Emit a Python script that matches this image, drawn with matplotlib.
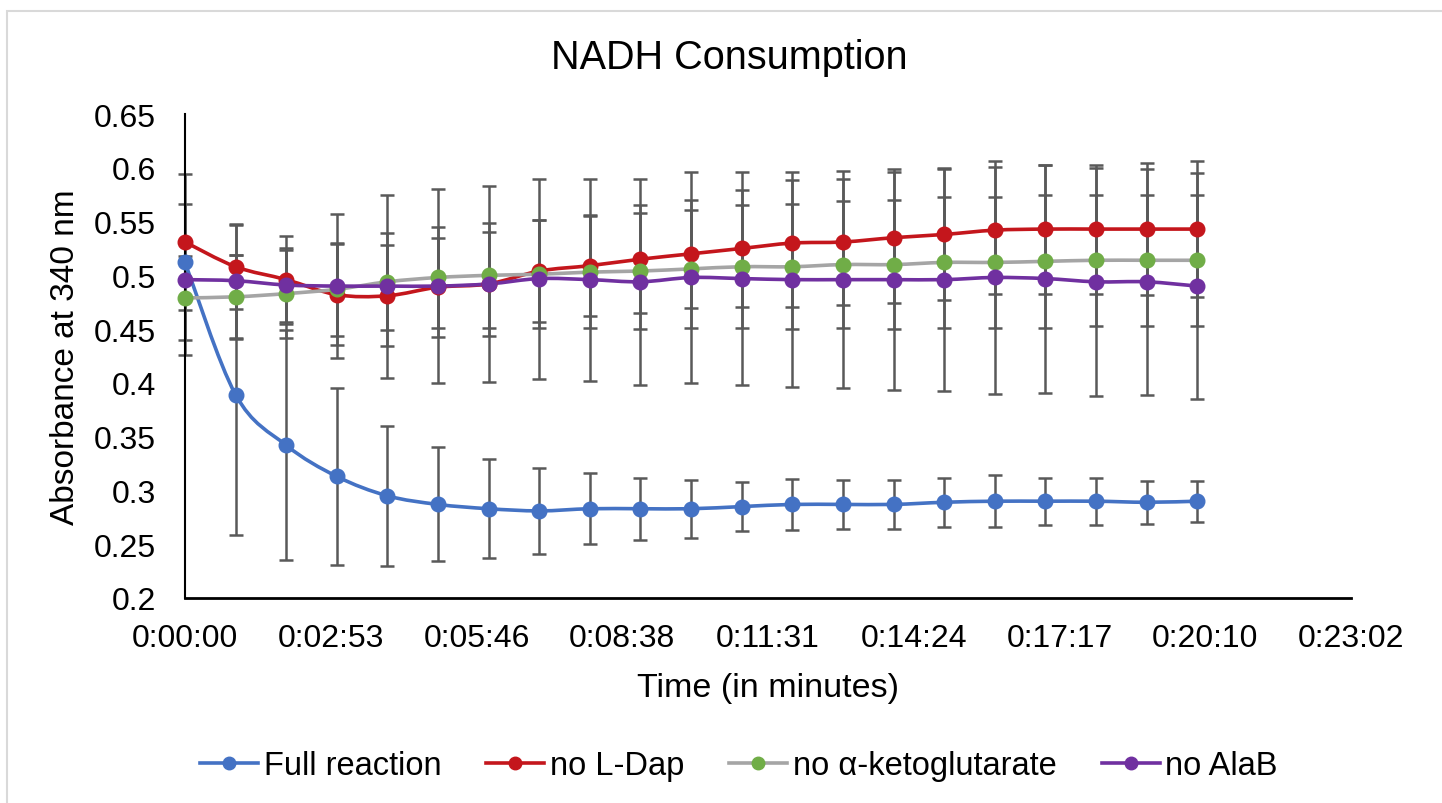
import numpy as np
import matplotlib
matplotlib.use("Agg")
import matplotlib.pyplot as plt
from matplotlib.path import Path
from matplotlib.patches import PathPatch, Rectangle
from matplotlib.lines import Line2D
from matplotlib.ticker import FuncFormatter, FixedLocator

plt.rcParams['font.family'] = ['Liberation Sans', 'DejaVu Sans']

# time points (seconds)
times = [0, 60, 120, 180, 240, 300, 360, 420, 480, 540, 600,
         660, 720, 780, 840, 900, 960, 1020, 1080, 1140, 1200]

full = [0.512, 0.389, 0.342, 0.313, 0.295, 0.287, 0.283, 0.281, 0.283, 0.283, 0.283,
        0.285, 0.287, 0.287, 0.287, 0.289, 0.290, 0.290, 0.290, 0.289, 0.290]
full_err = [0.0, 0.130, 0.107, 0.082, 0.065, 0.053, 0.046, 0.040, 0.033, 0.029, 0.027,
            0.023, 0.024, 0.023, 0.023, 0.023, 0.024, 0.022, 0.022, 0.020, 0.019]

no_ldap = [0.531, 0.508, 0.496, 0.482, 0.481, 0.489, 0.492, 0.504, 0.509, 0.515, 0.520,
           0.525, 0.530, 0.531, 0.535, 0.538, 0.542, 0.543, 0.543, 0.543, 0.543]
no_ldap_err = [0.063, 0.039, 0.041, 0.047, 0.047, 0.046, 0.048, 0.047, 0.047, 0.050, 0.050,
               0.054, 0.059, 0.059, 0.061, 0.061, 0.059, 0.060, 0.060, 0.061, 0.063]

no_akg = [0.479, 0.480, 0.483, 0.487, 0.494, 0.498, 0.500, 0.501, 0.503, 0.504, 0.506,
          0.508, 0.508, 0.510, 0.510, 0.512, 0.512, 0.513, 0.514, 0.514, 0.514]
no_akg_err = [0.039, 0.039, 0.041, 0.043, 0.045, 0.047, 0.049, 0.050, 0.052, 0.054, 0.055,
              0.057, 0.058, 0.059, 0.060, 0.061, 0.061, 0.062, 0.061, 0.061, 0.061]

no_alab = [0.496, 0.495, 0.491, 0.490, 0.490, 0.490, 0.492, 0.497, 0.496, 0.494, 0.498,
           0.497, 0.496, 0.496, 0.496, 0.496, 0.498, 0.497, 0.494, 0.494, 0.490]
no_alab_err = [0.070, 0.053, 0.034, 0.067, 0.085, 0.090, 0.091, 0.093, 0.094, 0.096, 0.098,
               0.099, 0.100, 0.101, 0.103, 0.104, 0.108, 0.106, 0.106, 0.105, 0.105]

labels = ['Full reaction', 'no L-Dap', 'no \u03b1-ketoglutarate', 'no AlaB']
line_colors = ['#4472C4', '#C4161C', '#A5A5A5', '#7030A0']
marker_colors = ['#4472C4', '#C4161C', '#70AD47', '#7030A0']


def smooth_path(x, y):
    # Excel style smoothed line: cubic bezier through every point
    x = np.asarray(x, float)
    y = np.asarray(y, float)
    n = len(x)
    verts = [(x[0], y[0])]
    codes = [Path.MOVETO]
    for i in range(n - 1):
        xp, yp = (x[i - 1], y[i - 1]) if i > 0 else (x[i], y[i])
        xn, yn = (x[i + 2], y[i + 2]) if i + 2 < n else (x[i + 1], y[i + 1])
        c1 = (x[i] + (x[i + 1] - xp) / 6, y[i] + (y[i + 1] - yp) / 6)
        c2 = (x[i + 1] - (xn - x[i]) / 6, y[i + 1] - (yn - y[i]) / 6)
        verts += [c1, c2, (x[i + 1], y[i + 1])]
        codes += [Path.CURVE4] * 3
    return Path(verts, codes)


fig = plt.figure(figsize=(14.42, 8.04), dpi=100)
fig.patches.append(Rectangle((7 / 1442, -0.01), 1.05, 1 - 12 / 804 + 0.01,
                             transform=fig.transFigure, fill=False,
                             edgecolor='#D9D9D9', linewidth=1.5))

ax = fig.add_axes([185 / 1442, 1 - 599 / 804, (1351 - 185) / 1442, (599 - 115) / 804])

series = [(full, full_err), (no_ldap, no_ldap_err), (no_akg, no_akg_err), (no_alab, no_alab_err)]

for vals, errs in series:
    eb = ax.errorbar(times[1:] if errs[0] == 0 else times,
                     vals[1:] if errs[0] == 0 else vals,
                     yerr=errs[1:] if errs[0] == 0 else errs,
                     fmt='none', ecolor='#595959',
                     elinewidth=1.8, capsize=4.8, capthick=1.8, zorder=1)
    for art in eb.lines[1] + eb.lines[2]:
        art.set_clip_on(False)

handles = []
for (vals, errs), lab, lc, mc in zip(series, labels, line_colors, marker_colors):
    ax.add_patch(PathPatch(smooth_path(times, vals), fill=False, edgecolor=lc,
                           linewidth=2.6, zorder=3, capstyle='round', clip_on=False))
    ax.plot(times, vals, linestyle='none', marker='o', markersize=10.5,
            color=mc, zorder=4, clip_on=False)
    handles.append(Line2D([], [], color=lc, linewidth=2.6, marker='o',
                          markersize=9, markerfacecolor=mc, markeredgecolor=mc))

ax.set_xlim(0, 1382.4)
ax.set_ylim(0.2, 0.65)
ax.xaxis.set_major_locator(FixedLocator([k * 172.8 for k in range(9)]))


def fmt_time(v, pos):
    s = int(round(v))
    return f"{s // 3600}:{(s % 3600) // 60:02d}:{s % 60:02d}"


ax.xaxis.set_major_formatter(FuncFormatter(fmt_time))
ax.set_yticks(np.arange(0.2, 0.6501, 0.05))
ax.yaxis.set_major_formatter(FuncFormatter(lambda v, p: f"{round(v, 2):g}"))

for side in ['top', 'right']:
    ax.spines[side].set_visible(False)
ax.spines['left'].set_linewidth(1.5)
ax.spines['bottom'].set_linewidth(2)
ax.tick_params(axis='both', length=0, labelsize=23)
ax.tick_params(axis='x', pad=18)
ax.tick_params(axis='y', pad=21)

ax.set_xlabel('Time (in minutes)', fontsize=24.5, labelpad=14)
ax.set_ylabel('Absorbance at 340 nm', fontsize=24, labelpad=9)
fig.text(729 / 1442, 1 - 58 / 804, 'NADH Consumption', fontsize=28.5,
         ha='center', va='center')

fig.legend(handles, labels, loc='center', bbox_to_anchor=(739 / 1442, 1 - 767 / 804),
           ncol=4, frameon=False, fontsize=23.5, handlelength=1.77,
           handletextpad=0.18, columnspacing=1.38)

fig.savefig('out.png', dpi=100)
